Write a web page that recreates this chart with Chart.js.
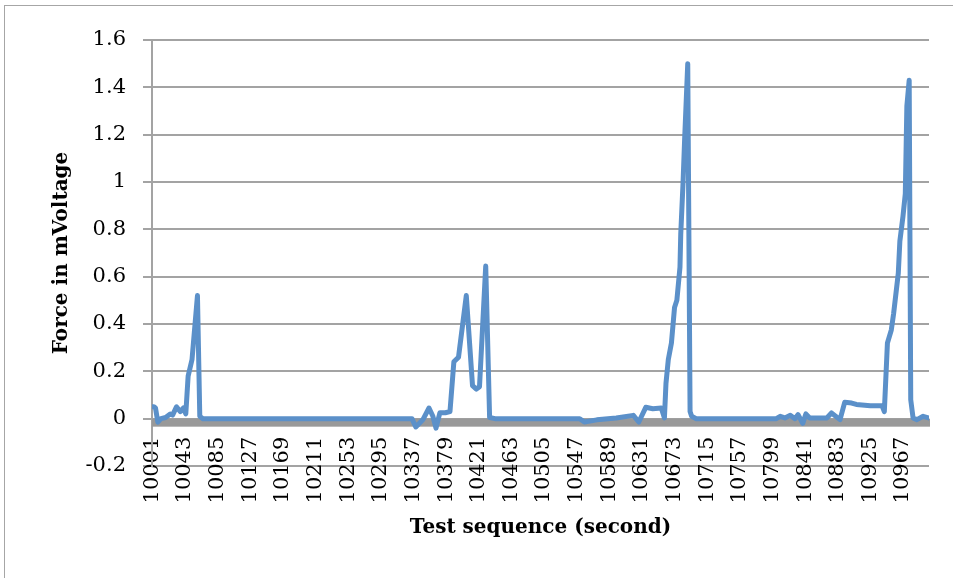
<!DOCTYPE html>
<html>
<head>
<meta charset="utf-8">
<script src="https://cdn.jsdelivr.net/npm/chart.js@4.4.1/dist/chart.umd.min.js"></script>
<style>
  html, body { margin: 0; padding: 0; background: #fff; overflow: hidden; }
  #frame { position: absolute; left: 4px; top: 5px; width: 2000px; height: 2000px; border: 1px solid #a6a6a6; }
  #wrap { position: absolute; left: 0; top: 0; width: 953px; height: 578px; }
</style>
</head>
<body>
<div id="frame"></div>
<div id="wrap"><canvas id="forceChart" width="953" height="578"></canvas></div>
<script>
// Messpunkte
const seconds = [
  10001, 10003, 10005, 10008, 10012, 10018, 10024, 10027, 10032, 10037, 10041, 10044, 10047, 10052, 10059, 10062, 10066,
  10335, 10340, 10349, 10357, 10362, 10366, 10371, 10378, 10384, 10389, 10395, 10405, 10413, 10418, 10422, 10430, 10435, 10442,
  10551, 10557, 10573, 10598, 10620, 10627, 10636, 10645, 10656, 10660, 10662, 10665, 10669, 10673, 10676, 10680, 10681, 10684, 10686, 10690, 10693, 10695, 10701,
  10804, 10809, 10815, 10822, 10828, 10832, 10838, 10842, 10847, 10869, 10875, 10886, 10892, 10901, 10907, 10925, 10940, 10943,
  10947, 10952, 10955, 10961, 10963, 10967, 10970, 10972, 10975, 10977, 10980, 10985, 10993, 11000
];
const force = [
  0.05, 0.05, 0.045, -0.015, 0.0, 0.005, 0.02, 0.015, 0.05, 0.03, 0.045, 0.02, 0.18, 0.25, 0.52, 0.01, 0,
  0, -0.035, -0.005, 0.045, 0.01, -0.04, 0.025, 0.025, 0.03, 0.24, 0.26, 0.52, 0.14, 0.125, 0.135, 0.645, 0.005, 0,
  0, -0.014, -0.005, 0.003, 0.014, -0.014, 0.048, 0.042, 0.045, 0.003, 0.15, 0.25, 0.32, 0.47, 0.5, 0.64, 0.78, 1.0, 1.18, 1.5, 0.03, 0.01, 0,
  0, 0.01, 0.003, 0.014, 0, 0.017, -0.02, 0.02, 0.003, 0.003, 0.024, -0.004, 0.069, 0.066, 0.06, 0.055, 0.055, 0.03,
  0.32, 0.375, 0.445, 0.615, 0.75, 0.855, 0.95, 1.32, 1.43, 0.08, 0.003, -0.004, 0.01, 0.003
];
// Achsenbeschriftung x
const tickSeconds = [
  10001, 10043, 10085, 10127, 10169, 10211, 10253, 10295, 10337, 10379, 10421, 10463,
  10505, 10547, 10589, 10631, 10673, 10715, 10757, 10799, 10841, 10883, 10925, 10967
];

const gridGrau = '#a3a3a3';

// grauer Balken unter der Nulllinie
const nullBalken = {
  id: 'nullBalken',
  beforeDatasetsDraw(chart) {
    const { ctx, chartArea, scales } = chart;
    const y0 = scales.y.getPixelForValue(0);
    ctx.save();
    ctx.fillStyle = '#999999';
    ctx.fillRect(chartArea.left, y0, chartArea.right - chartArea.left + 1, 8);
    ctx.restore();
  }
};

Chart.defaults.font.family = "'DejaVu Serif', serif";
Chart.defaults.color = '#000';

const ctx = document.getElementById('forceChart').getContext('2d');
new Chart(ctx, {
  type: 'line',
  data: {
    datasets: [{
      label: 'Force',
      data: seconds.map((s, i) => ({ x: s, y: force[i] })),
      borderColor: '#5b90c9',
      borderWidth: 5,
      borderJoinStyle: 'round',
      borderCapStyle: 'round',
      pointRadius: 0,
      tension: 0,
      fill: false
    }]
  },
  options: {
    responsive: false,
    animation: false,
    layout: { padding: { left: 0, top: 40, right: 24, bottom: 112 } },
    plugins: {
      legend: { display: false },
      tooltip: { enabled: false }
    },
    scales: {
      x: {
        type: 'linear',
        position: { y: 0 },   // Achse kreuzt bei 0 wie in Excel
        min: 10000.5,
        max: 11000.5,
        afterBuildTicks: scale => {
          scale.ticks = tickSeconds.map(v => ({ value: v }));
        },
        afterFit: scale => { scale.height = 121; },
        grid: { display: false, drawTicks: false },
        border: { display: false },
        ticks: {
          autoSkip: false,
          minRotation: 90,
          maxRotation: 90,
          padding: 18,
          font: { size: 21 },
          callback: value => String(value)
        },
        title: {
          display: true,
          text: 'Test sequence (second)',
          font: { size: 20, weight: 'bold' },
          padding: 0
        }
      },
      y: {
        min: -0.2,
        max: 1.6,
        afterFit: scale => { scale.width = 152; },
        grid: { color: gridGrau, lineWidth: 2, tickLength: 9 },
        border: { color: gridGrau, width: 2 },
        ticks: {
          stepSize: 0.2,
          padding: 17,
          font: { size: 21 },
          callback: value => String(Math.round(value * 10) / 10)
        },
        title: {
          display: true,
          text: 'Force in mVoltage',
          font: { size: 20, weight: 'bold' },
          padding: { top: 50, bottom: 0 }
        }
      }
    }
  },
  plugins: [nullBalken]
});
</script>
</body>
</html>
